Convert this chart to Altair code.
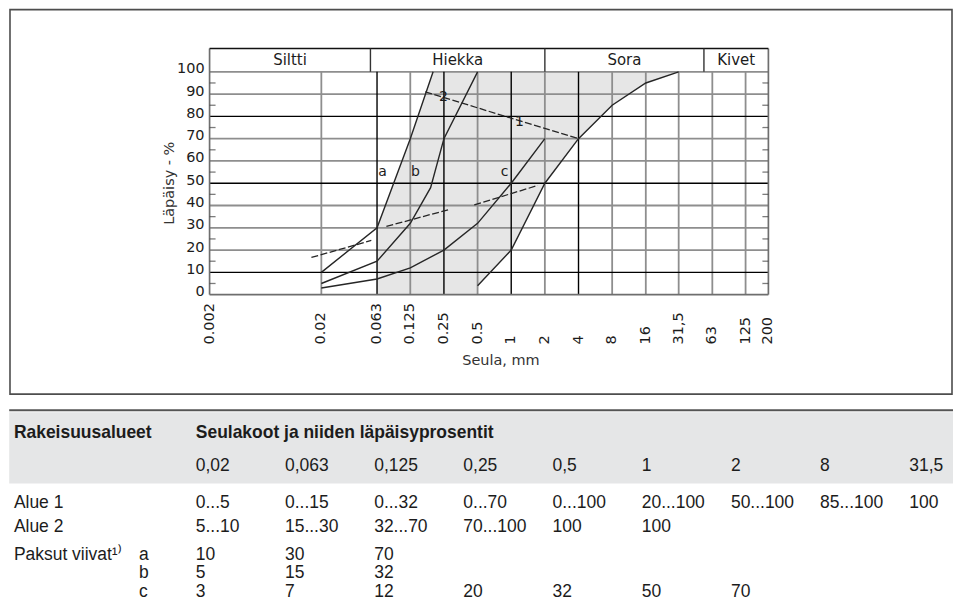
import altair as alt
import pandas as pd

# ---------------- chart data ----------------
sieve_ticks = [0.002, 0.02, 0.063, 0.125, 0.25, 0.5, 1, 2, 4, 8, 16, 31.5, 63, 125, 200]
sieve_tick_labels = ["0.002", "0.02", "0.063", "0.125", "0.25", "0.5", "1", "2", "4",
                     "8", "16", "31,5", "63", "125", "200"]
grid_sizes = [0.02, 0.063, 0.125, 0.25, 0.5, 1, 2, 4, 8, 16, 31.5, 63, 125]
heavy_sizes = [0.063, 0.25, 1, 4]
pct_ticks = [0, 10, 20, 30, 40, 50, 60, 70, 80, 90, 100]
pct_grid = [10, 20, 30, 40, 50, 60, 70, 80, 90, 100]
heavy_pcts = [10, 50, 80]
pct_minor = [5, 15, 25, 35, 45, 55, 65, 75, 85, 95]

soil_names = ["Siltti", "Hiekka", "Sora", "Kivet"]
soil_from = [0.002, 0.055, 2, 53]
soil_to = [0.055, 2, 53, 200]
header_bottom = 100
header_top = 110.45

curve_a_x = [0.02, 0.063, 0.125, 0.2]
curve_a_y = [10, 30, 70, 100]
curve_b_x = [0.02, 0.063, 0.125, 0.19, 0.25, 0.5]
curve_b_y = [5, 15, 32, 48, 70, 100]
curve_c_x = [0.02, 0.063, 0.125, 0.25, 0.5, 1, 2]
curve_c_y = [3, 7, 12, 20, 32, 50, 70]
lower1_x = [0.5, 1, 2, 4, 8, 16, 31.5]
lower1_y = [4, 20, 50, 70, 85, 95, 100]

lead_12_x = [0.17, 4]
lead_12_y = [91, 70]
lead_s1_x = [0.0163, 0.056]
lead_s1_y = [16.7, 24.3]
lead_s2_x = [0.0764, 0.283]
lead_s2_y = [30.6, 38.3]
lead_s3_x = [0.467, 1.73]
lead_s3_y = [40.3, 49]

curve_labels = ["a", "b", "c"]
curve_label_x = [0.0705, 0.139, 0.871]
curve_label_y = [55, 55, 55]
zone_labels = ["2", "1"]
zone_label_x = [0.247, 1.186]
zone_label_y = [88.5, 77.5]

y_title = "Läpäisy - %"
x_title = "Seula, mm"

# ---------------- table data ----------------
tab_head_left = "Rakeisuusalueet"
tab_head_right = "Seulakoot ja niiden läpäisyprosentit"
tab_sizes = ["0,02", "0,063", "0,125", "0,25", "0,5", "1", "2", "8", "31,5"]
alue1 = ["0...5", "0...15", "0...32", "0...70", "0...100", "20...100", "50...100", "85...100", "100"]
alue2 = ["5...10", "15...30", "32...70", "70...100", "100", "100"]
paksu_a = ["10", "30", "70"]
paksu_b = ["5", "15", "32"]
paksu_c = ["3", "7", "12", "20", "32", "50", "70"]
row_names = ["Alue 1", "Alue 2", "Paksut viivat¹⁾"]
sub_names = ["a", "b", "c"]

# ---------------- layout / style ----------------
# Both stacked views share the same left origin (the plot's left edge);
# everything to the left of it is drawn at negative offsets.
LEFT = 200.8
W_PLOT, H_PLOT = 560, 246.6
FRAME = dict(x0=-200, x1=744, y0=-39, y1=346.3)
W_TAB_VIEW, H_TAB = 745, 194
CHART_FONT = "DejaVu Sans"
TAB_FONT = "Liberation Sans"
INK = "#1c1c1c"
GRID_GRAY = "#8e8e8e"
EDGE = "#6e6e6e"

XS = alt.Scale(type="log", domain=[sieve_ticks[0], sieve_ticks[-1]], nice=False)
YS = alt.Scale(type="linear", domain=[0, header_top], nice=False)
X0, X1 = sieve_ticks[0], sieve_ticks[-1]
Y0, Y1 = pct_ticks[0], pct_ticks[-1]


def xq(f):
    return alt.X(f"{f}:Q", scale=XS, axis=None)


def yq(f):
    return alt.Y(f"{f}:Q", scale=YS, axis=None)


one = pd.DataFrame({"k": [0]})

# shaded band
sh1 = pd.DataFrame({"x": curve_a_x[1:] + [lower1_x[0]],
                    "lo": [Y0] * (len(curve_a_x) - 1) + [Y0],
                    "hi": curve_a_y[1:] + [Y1]})
sh2 = pd.DataFrame({"x": lower1_x, "lo": lower1_y, "hi": [Y1] * len(lower1_x)})
shade1 = alt.Chart(sh1).mark_area(color="#e6e6e6").encode(x=xq("x"), y=yq("lo"), y2="hi:Q")
shade2 = alt.Chart(sh2).mark_area(color="#e6e6e6").encode(x=xq("x"), y=yq("lo"), y2="hi:Q")

# grid
gv = pd.DataFrame({"x": [v for v in grid_sizes if v not in heavy_sizes], "y0": Y0, "y1": Y1})
gh = pd.DataFrame({"y": [v for v in pct_grid if v not in heavy_pcts], "x0": X0, "x1": X1})
hv = pd.DataFrame({"x": heavy_sizes, "y0": Y0, "y1": Y1})
hh = pd.DataFrame({"y": heavy_pcts, "x0": X0, "x1": X1})
grid_v = alt.Chart(gv).mark_rule(color=GRID_GRAY, strokeWidth=1.8).encode(
    x=xq("x"), y=yq("y0"), y2="y1:Q")
grid_h = alt.Chart(gh).mark_rule(color=GRID_GRAY, strokeWidth=1.8).encode(
    y=yq("y"), x=xq("x0"), x2="x1:Q")
heavy_v = alt.Chart(hv).mark_rule(color="#000000", strokeWidth=1.4).encode(
    x=xq("x"), y=yq("y0"), y2="y1:Q")
heavy_h = alt.Chart(hh).mark_rule(color="#000000", strokeWidth=1.4).encode(
    y=yq("y"), x=xq("x0"), x2="x1:Q")

# curves
curves = pd.concat([
    pd.DataFrame({"x": curve_a_x, "y": curve_a_y, "curve": "a"}),
    pd.DataFrame({"x": curve_b_x, "y": curve_b_y, "curve": "b"}),
    pd.DataFrame({"x": curve_c_x, "y": curve_c_y, "curve": "c"}),
    pd.DataFrame({"x": lower1_x, "y": lower1_y, "curve": "low1"}),
])
curve_lines = alt.Chart(curves).mark_line(color="#262626", strokeWidth=1.4).encode(
    x=xq("x"), y=yq("y"), detail="curve:N")

leads = pd.concat([
    pd.DataFrame({"x": lead_12_x, "y": lead_12_y, "seg": "12"}),
    pd.DataFrame({"x": lead_s1_x, "y": lead_s1_y, "seg": "s1"}),
    pd.DataFrame({"x": lead_s2_x, "y": lead_s2_y, "seg": "s2"}),
    pd.DataFrame({"x": lead_s3_x, "y": lead_s3_y, "seg": "s3"}),
])
lead_lines = alt.Chart(leads).mark_line(color="#262626", strokeWidth=1.3, strokeDash=[7, 2.5]).encode(
    x=xq("x"), y=yq("y"), detail="seg:N")

# plot border and header box
ev = pd.DataFrame({"x": [X0, X1], "y0": Y0, "y1": header_top})
edges_v = alt.Chart(ev).mark_rule(color=EDGE, strokeWidth=1.7).encode(
    x=xq("x"), y=yq("y0"), y2="y1:Q")
eh = pd.DataFrame({"y": [Y0], "x0": X0, "x1": X1})
edge_bottom = alt.Chart(eh).mark_rule(color=EDGE, strokeWidth=1.7).encode(
    y=yq("y"), x=xq("x0"), x2="x1:Q")
ht = pd.DataFrame({"y": [header_top], "x0": X0, "x1": X1})
head_top = alt.Chart(ht).mark_rule(color="#111111", strokeWidth=1.4).encode(
    y=yq("y"), x=xq("x0"), x2="x1:Q")
soil = pd.DataFrame({"name": soil_names, "x0": soil_from, "x1": soil_to})
soil["mid"] = (soil["x0"] * soil["x1"]) ** 0.5
soil["ym"] = (header_bottom + header_top) / 2
soil["yb"] = header_bottom
soil["yt"] = header_top
head_div = alt.Chart(soil.iloc[1:]).mark_rule(color="#333333", strokeWidth=1.4).encode(
    x=xq("x0"), y=yq("yb"), y2="yt:Q")
head_text = alt.Chart(soil).mark_text(font=CHART_FONT, fontSize=15, color=INK, baseline="middle").encode(
    x=xq("mid"), y=yq("ym"), text="name:N")

minor = pd.DataFrame({"y": pct_minor, "xl": X0, "xr": X1})
minor_l = alt.Chart(minor).mark_tick(orient="horizontal", size=6, thickness=1.3, xOffset=3,
                                     color="#444444").encode(x=xq("xl"), y=yq("y"))
minor_r = alt.Chart(minor).mark_tick(orient="horizontal", size=6, thickness=1.3, xOffset=-3,
                                     color="#444444").encode(x=xq("xr"), y=yq("y"))

ytl = pd.DataFrame({"y": pct_ticks, "label": [str(v) for v in pct_ticks], "x": X0})
y_labels = alt.Chart(ytl).mark_text(font=CHART_FONT, fontSize=14.5, color=INK, align="right",
                                    baseline="middle", dx=-5, dy=-2.5).encode(
    x=xq("x"), y=yq("y"), text="label:N")
xtl = pd.DataFrame({"x": sieve_ticks, "label": sieve_tick_labels, "y": Y0})
x_labels = alt.Chart(xtl).mark_text(font=CHART_FONT, fontSize=14.5, color=INK, angle=270,
                                    align="left", baseline="middle", dx=-50).encode(
    x=xq("x"), y=yq("y"), text="label:N")

cl = pd.DataFrame({"x": curve_label_x, "y": curve_label_y, "t": curve_labels})
c_labels = alt.Chart(cl).mark_text(font=CHART_FONT, fontSize=14, color=INK, baseline="middle").encode(
    x=xq("x"), y=yq("y"), text="t:N")
zl = pd.DataFrame({"x": zone_label_x, "y": zone_label_y, "t": zone_labels})
z_labels = alt.Chart(zl).mark_text(font=CHART_FONT, fontSize=14, color=INK, baseline="middle").encode(
    x=xq("x"), y=yq("y"), text="t:N")

yt = pd.DataFrame({"x": [X0], "y": [(Y0 + Y1) / 2], "t": [y_title]})
y_tit = alt.Chart(yt).mark_text(font=CHART_FONT, fontSize=14.5, color="#333333", angle=270,
                                align="center", baseline="middle", dy=-40).encode(
    x=xq("x"), y=yq("y"), text="t:N")
x_tit = alt.Chart(one).mark_text(font=CHART_FONT, fontSize=14.5, color="#333333",
                                 align="center", baseline="middle").encode(
    x=alt.value(292), y=alt.value(H_PLOT + 67), text=alt.value(x_title))

frame = alt.Chart(one).mark_rect(fillOpacity=0, stroke="#4d4d4d", strokeWidth=1.6).encode(
    x=alt.value(FRAME["x0"]), x2=alt.value(FRAME["x1"]),
    y=alt.value(FRAME["y0"]), y2=alt.value(FRAME["y1"]))

top = alt.layer(
    shade1, shade2, grid_v, grid_h, heavy_v, heavy_h, curve_lines, lead_lines,
    edges_v, edge_bottom, head_top, head_div, head_text, minor_l, minor_r,
    y_labels, x_labels, c_labels, z_labels, y_tit, x_tit, frame,
).properties(width=W_PLOT, height=H_PLOT)

# ---------------- table ----------------
COL0, COLSTEP = 187 - LEFT, 89.375
CS = alt.Scale(domain=[-COL0 / COLSTEP, (W_TAB_VIEW - COL0) / COLSTEP], nice=False, zero=False)
row_base = {"head": 28.4, "sizes": 61.4, "alue1": 98.4, "alue2": 122.4,
            "a": 150.4, "b": 168.9, "c": 187.4}
X_LABEL, X_SUB = 4.7 - LEFT, 130 - LEFT
TAB_X0, TAB_X1 = -LEFT, W_TAB_VIEW

tab_bg = alt.Chart(one).mark_rect(color="#e5e6e7").encode(
    x=alt.value(TAB_X0), x2=alt.value(TAB_X1), y=alt.value(2.5), y2=alt.value(74))
tab_rule = alt.Chart(one).mark_rule(color="#555555", strokeWidth=2).encode(
    x=alt.value(TAB_X0), x2=alt.value(TAB_X1), y=alt.value(0.5))


def cells(texts, row, bold=False):
    df = pd.DataFrame({"col": list(range(len(texts))), "t": texts})
    return alt.Chart(df).mark_text(font=TAB_FONT, fontSize=17.5, color=INK, align="left",
                                   baseline="alphabetic",
                                   fontWeight="bold" if bold else "normal").encode(
        x=alt.X("col:Q", scale=CS, axis=None), y=alt.value(row_base[row]), text="t:N")


def label(text, row, xpix, bold=False):
    return alt.Chart(one).mark_text(font=TAB_FONT, fontSize=17.5, color=INK, align="left",
                                    baseline="alphabetic",
                                    fontWeight="bold" if bold else "normal").encode(
        x=alt.value(xpix), y=alt.value(row_base[row]), text=alt.value(text))


table = alt.layer(
    tab_bg, tab_rule,
    label(tab_head_left, "head", X_LABEL, bold=True),
    cells([tab_head_right], "head", bold=True),
    cells(tab_sizes, "sizes"),
    cells(alue1, "alue1"),
    cells(alue2, "alue2"),
    cells(paksu_a, "a"),
    cells(paksu_b, "b"),
    cells(paksu_c, "c"),
    label(row_names[0], "alue1", X_LABEL),
    label(row_names[1], "alue2", X_LABEL),
    label(row_names[2], "a", X_LABEL),
    label(sub_names[0], "a", X_SUB),
    label(sub_names[1], "b", X_SUB),
    label(sub_names[2], "c", X_SUB),
).properties(width=W_TAB_VIEW, height=H_TAB)

chart = alt.vconcat(top, table, spacing=13, padding=0).configure_view(strokeWidth=0)

chart.save("out.html", embed_options={"renderer": "svg", "actions": False})
